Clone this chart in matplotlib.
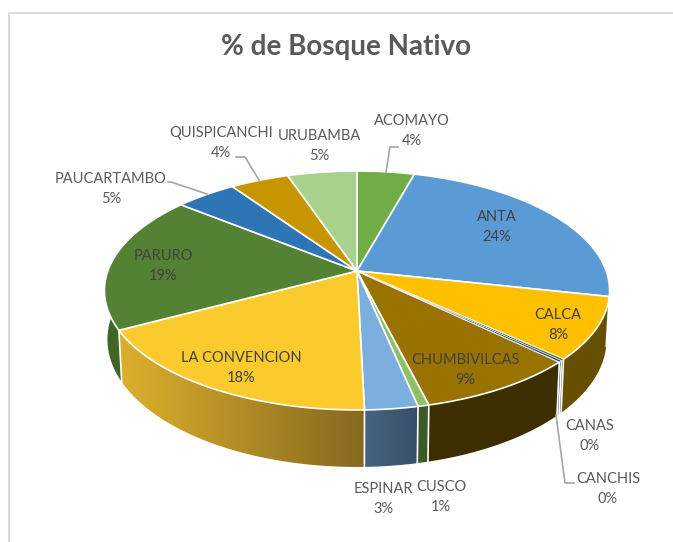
import numpy as np
import matplotlib
matplotlib.use('Agg')
import matplotlib.pyplot as plt
from matplotlib.colors import to_rgb
from matplotlib.patches import Polygon, Rectangle

# Data
names = ['ACOMAYO', 'ANTA', 'CALCA', 'CANAS', 'CANCHIS', 'CHUMBIVILCAS', 'CUSCO',
         'ESPINAR', 'LA CONVENCION', 'PARURO', 'PAUCARTAMBO', 'QUISPICANCHI', 'URUBAMBA']
values = [4.3, 24.1, 8.4, 0.2, 0.2, 8.9, 0.6, 2.9, 17.6, 18.6, 4.6, 4.4, 5.2]

# Slice colours, top face and side wall (left and right end of the wall gradient)
top_colors = ['#70ad47', '#5b9bd5', '#ffc000', '#43682b', '#264478', '#997300', '#8cc168',
              '#7cafdd', '#fbcb2d', '#548235', '#2e75b6', '#c69500', '#a9d18e']
wall_left = ['#43682b', '#375d80', '#665000', '#2b4219', '#172a4a', '#3d2e00', '#3a5a28',
             '#466480', '#dcb02c', '#3f6628', '#1c466d', '#775900', '#657e55']
wall_right = ['#43682b', '#375d80', '#665000', '#2b4219', '#172a4a', '#3d2e00', '#3a5a28',
              '#39506a', '#866820', '#3f6628', '#1c466d', '#775900', '#657e55']

# Label positions in pixels (name and percent block centre)
label_pos = [(412, 131), (497, 227), (558, 325), (590, 436), (608, 489), (465, 370), (441, 497),
             (383, 499), (241, 368), (163, 266), (111, 189), (221, 143), (319, 146)]
inside = ['ANTA', 'CALCA', 'CHUMBIVILCAS', 'LA CONVENCION', 'PARURO']

# Leader lines
leaders = [[(386, 172), (390, 147), (398, 147)],
           [(259, 180), (245, 157), (236, 157)],
           [(207, 194), (171, 182), (168, 182)],
           [(556, 415), (565, 483), (574, 483)]]

# Pie geometry in pixels, with a perspective term because the hub sits above the ellipse centre
hub_x, hub_y = 357, 271
rad_x, rad_y = 249.2, 116.3
persp = 0.163
depth = 47.7
shrink = 0.988


def top_rim(theta):
    w = 1 + persp * np.cos(theta)
    return hub_x + rad_x * np.sin(theta) / w, hub_y - rad_y * np.cos(theta) / w


def bottom_rim(theta):
    w = 1 + persp * np.cos(theta)
    x, y = top_rim(theta)
    return hub_x + (x - hub_x) * shrink, y + depth / w


fig = plt.figure(figsize=(6.73, 5.42), dpi=100)
ax = fig.add_axes([0, 0, 1, 1])
ax.axis('off')

ax.add_patch(Rectangle((9, 13), 700, 600, fc='white', ec='#d9d9d9', lw=1.3))

edges = np.radians(np.cumsum([0] + values) / sum(values) * 360)

# Side walls
for i in range(len(values)):
    t0, t1 = edges[i], edges[i + 1]
    # only the front half can be seen
    t0, t1 = max(t0, np.pi * 0.42), min(t1, np.pi * 1.58)
    if t1 <= t0:
        continue
    ts = np.linspace(t0, t1, 80)
    xt, yt = top_rim(ts)
    xb, yb = bottom_rim(ts)
    pts = np.column_stack([np.r_[xt, xb[::-1]], np.r_[yt, yb[::-1]]])
    if wall_left[i] == wall_right[i]:
        ax.add_patch(Polygon(pts, fc=wall_left[i], ec='none', zorder=2))
    else:
        # gradient runs left to right across the wall
        f = np.linspace(0, 1, 200)[None, :, None]
        grad = np.array(to_rgb(wall_left[i]))[None, None, :] * (1 - f) \
            + np.array(to_rgb(wall_right[i]))[None, None, :] * f
        im = ax.imshow(grad, extent=(pts[:, 0].min(), pts[:, 0].max(), pts[:, 1].max(), pts[:, 1].min()),
                       aspect='auto', zorder=2)
        im.set_clip_path(Polygon(pts, transform=ax.transData))
    if t0 == edges[i]:
        xa, ya = top_rim(t0)
        xc, yc = bottom_rim(t0)
        ax.plot([xa, xc], [ya, yc], color='white', lw=1.2, zorder=3)

# Top face
for i in range(len(values)):
    ts = np.linspace(edges[i], edges[i + 1], 80)
    xt, yt = top_rim(ts)
    pts = np.column_stack([np.r_[hub_x, xt], np.r_[hub_y, yt]])
    # the two near-zero slices would vanish under a full width edge
    thin = values[i] < 0.5
    ax.add_patch(Polygon(pts, closed=True, fc=top_colors[i], ec='white', lw=0.4 if thin else 1.2,
                         joinstyle='round', zorder=4.5 if thin else 4))

for line in leaders:
    ax.plot([p[0] for p in line], [p[1] for p in line], color='#a6a6a6', lw=1.2, zorder=5)

for name, val, pos in zip(names, values, label_pos):
    color = '#404040' if name in inside else '#595959'
    ax.text(pos[0], pos[1], f'{name}\n{val:.0f}%', ha='center', va='center', fontsize=10.5,
            family='Lato', color=color, linespacing=1.6, zorder=6)

ax.text(346, 47, '% de Bosque Nativo', ha='center', va='center', fontsize=20,
        family='Lato', fontweight='bold', color='#595959')

ax.set_xlim(0, 673)
ax.set_ylim(542, 0)

fig.savefig('out.png', dpi=100)
